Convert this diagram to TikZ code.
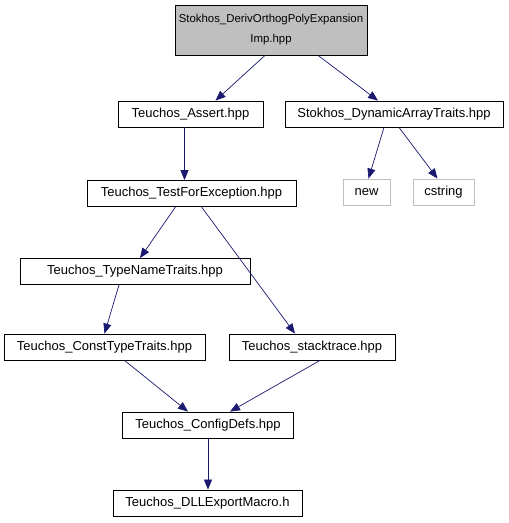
\documentclass[tikz,border=0pt]{standalone}
\usepackage{fontspec}
\setmainfont{Liberation Sans}
\usetikzlibrary{arrows.meta}
\definecolor{edgeblue}{RGB}{25,25,112}
\definecolor{topgray}{RGB}{191,191,191}
\definecolor{extgray}{RGB}{191,191,191}
\begin{document}
\begin{tikzpicture}[x=1pt,y=-1pt,
    file/.style={draw=black,fill=white,line width=0.8pt,inner sep=0pt,minimum height=26pt,font=\fontsize{13}{20}\selectfont},
    ext/.style={file,draw=extgray},
    inc/.style={draw=edgeblue,line width=0.7pt,-{Triangle[length=10pt,width=8pt]}}]
    \useasboundingbox (0,0) rectangle (509,523);
    \node[file,fill=topgray,minimum width=192pt,minimum height=50pt,align=center,font=\fontsize{11.4}{20}\selectfont] (imp) at (271,30) {Stokhos\_DerivOrthogPolyExpansion\\Imp.hpp};
    \node[file,minimum width=145pt] (assert) at (190.5,114) {Teuchos\_Assert.hpp};
    \node[file,minimum width=218pt] (dyn) at (394,114) {Stokhos\_DynamicArrayTraits.hpp};
    \node[file,minimum width=209pt] (test) at (191.5,193.5) {Teuchos\_TestForException.hpp};
    \node[ext,minimum width=47pt] (new) at (366.5,192) {new};
    \node[ext,minimum width=61pt] (cstr) at (443.5,192) {cstring};
    \node[file,minimum width=230pt] (tname) at (135,271.5) {Teuchos\_TypeNameTraits.hpp};
    \node[file,minimum width=201pt] (ctype) at (104.5,347) {Teuchos\_ConstTypeTraits.hpp};
    \node[file,minimum width=166pt] (stack) at (312,347) {Teuchos\_stacktrace.hpp};
    \node[file,minimum width=171pt] (conf) at (208,425) {Teuchos\_ConfigDefs.hpp};
    \node[file,minimum width=189pt] (dll) at (207.5,503) {Teuchos\_DLLExportMacro.h};
    % includes
    \draw[inc] ([xshift=-6pt]imp.south) -- ([xshift=25pt]assert.north);
    \draw[inc] ([xshift=47pt]imp.south) -- ([xshift=-16pt]dyn.north);
    \draw[inc] ([xshift=-6pt]assert.south) -- ([xshift=-7pt]test.north);
    \draw[inc] ([xshift=-16pt]test.south) -- ([xshift=5pt]tname.north);
    \draw[inc] ([xshift=10pt]test.south) -- ([xshift=-17pt]stack.north);
    \draw[inc] ([xshift=-16pt]tname.south) -- ([xshift=0pt]ctype.north);
    \draw[inc] ([xshift=20pt]ctype.south) -- ([xshift=-20pt]conf.north);
    \draw[inc] ([xshift=8pt]stack.south) -- ([xshift=22pt]conf.north);
    \draw[inc] (conf.south) -- (conf.south |- dll.north);
    \draw[inc] ([xshift=-10pt]dyn.south) -- ([xshift=2pt]new.north);
    \draw[inc] ([xshift=5pt]dyn.south) -- ([xshift=-6pt]cstr.north);
\end{tikzpicture}
\end{document}
